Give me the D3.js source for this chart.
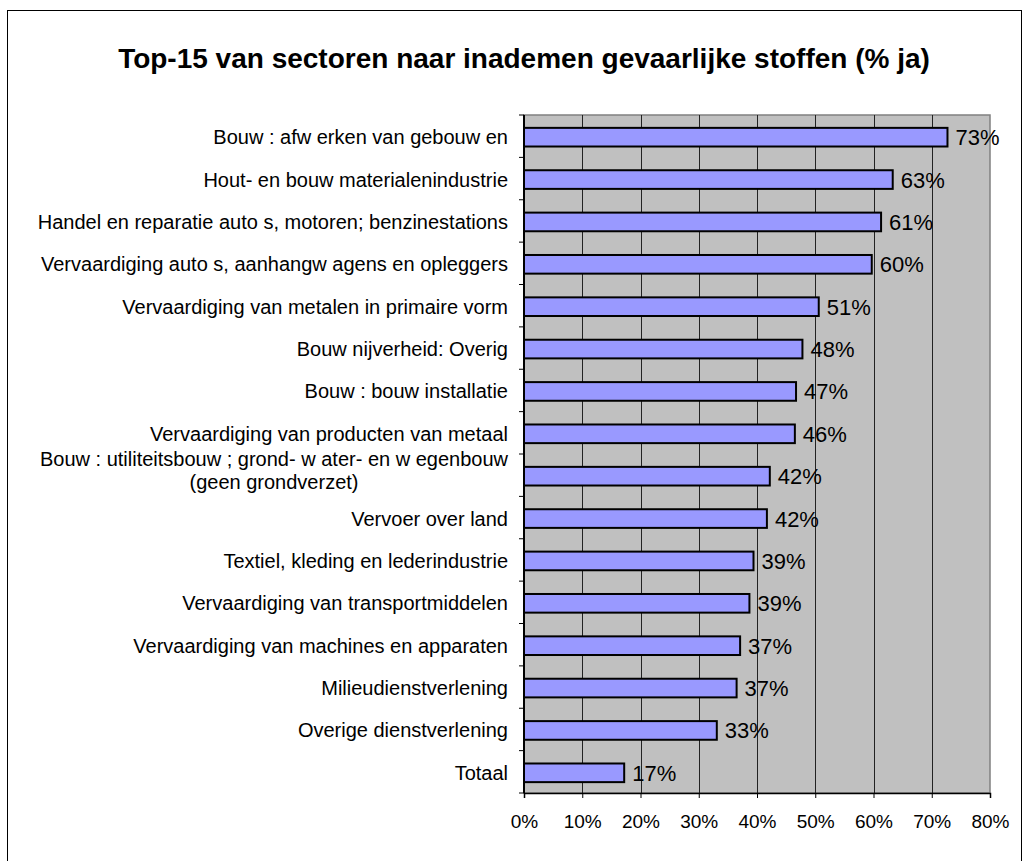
<!DOCTYPE html>
<html>
<head>
  <script src="https://d3js.org/d3.v7.min.js"></script>
</head>
<style>
body { margin: 0; background: #fff; }
text { font-family: Arial, "Liberation Sans", sans-serif; fill: #000; }
</style>
<body>
<script>
    var categories = [
      "Bouw : afw erken van gebouw en",
      "Hout- en bouw materialenindustrie",
      "Handel en reparatie auto s, motoren; benzinestations",
      "Vervaardiging auto s, aanhangw agens en opleggers",
      "Vervaardiging van metalen in primaire vorm",
      "Bouw nijverheid: Overig",
      "Bouw : bouw installatie",
      "Vervaardiging van producten van metaal",
      "Bouw : utiliteitsbouw ; grond- w ater- en w egenbouw\n(geen grondverzet)",
      "Vervoer over land",
      "Textiel, kleding en lederindustrie",
      "Vervaardiging van transportmiddelen",
      "Vervaardiging van machines en apparaten",
      "Milieudienstverlening",
      "Overige dienstverlening",
      "Totaal"
    ];
    // bar lengths
    var values = [0.727, 0.633, 0.613, 0.597, 0.506, 0.478, 0.467, 0.465,
                  0.422, 0.417, 0.394, 0.387, 0.371, 0.365, 0.331, 0.172];
    var labels = ["73%", "63%", "61%", "60%", "51%", "48%", "47%", "46%",
                  "42%", "42%", "39%", "39%", "37%", "37%", "33%", "17%"];
    var ticks = [0, 0.1, 0.2, 0.3, 0.4, 0.5, 0.6, 0.7, 0.8];
    var title = "Top-15 van sectoren naar inademen gevaarlijke stoffen (% ja)";

    var W = 1023, H = 861;
    var plotL = 524, plotR = 990, plotT = 115, plotB = 793;

    var svg = d3.select("body")
      .append("svg")
      .attr("width", W)
      .attr("height", H);

    // outer frame
    svg.append("rect")
      .attr("x", 7.5).attr("y", 10.5)
      .attr("width", 1014).attr("height", 860)
      .attr("fill", "#fff")
      .attr("stroke", "#000")
      .attr("stroke-width", 1);

    svg.append("text")
      .attr("x", 524)
      .attr("y", 68)
      .attr("text-anchor", "middle")
      .attr("font-size", 28)
      .attr("font-weight", "bold")
      .text(title);

    var x = d3.scaleLinear().domain([0, 0.8]).range([plotL, plotR]);
    var y = d3.scaleBand().domain(d3.range(categories.length))
      .range([plotT, plotB])
      .paddingInner(0.56)
      .paddingOuter(0.28);

    // plot area
    svg.append("rect")
      .attr("x", plotL).attr("y", plotT)
      .attr("width", plotR - plotL).attr("height", plotB - plotT)
      .attr("fill", "#c0c0c0")
      .attr("stroke", "#808080")
      .attr("stroke-width", 1.5);

    svg.selectAll(".grid")
      .data(ticks.slice(1, -1))
      .enter()
      .append("line")
      .attr("x1", function(d) { return Math.round(x(d)) + 0.5; })
      .attr("x2", function(d) { return Math.round(x(d)) + 0.5; })
      .attr("y1", plotT)
      .attr("y2", plotB)
      .attr("stroke", "#222")
      .attr("stroke-width", 1);

    // x axis
    var xAxis = svg.append("g")
      .attr("transform", "translate(0," + plotB + ")")
      .call(d3.axisBottom(x).tickValues(ticks).tickFormat(d3.format(".0%"))
        .tickSize(5).tickPadding(17));
    xAxis.select(".domain").attr("stroke", "#000").attr("stroke-width", 1.5);
    xAxis.selectAll("line").attr("stroke", "#000");
    xAxis.selectAll("text")
      .attr("font-size", 19)
      .attr("font-family", "Arial, 'Liberation Sans', sans-serif");

    // y axis line and ticks at band boundaries
    svg.append("line")
      .attr("x1", plotL).attr("x2", plotL)
      .attr("y1", plotT).attr("y2", plotB)
      .attr("stroke", "#000").attr("stroke-width", 2);
    var step = (plotB - plotT) / categories.length;
    svg.selectAll(".ytick")
      .data(d3.range(categories.length + 1))
      .enter()
      .append("line")
      .attr("x1", plotL - 5).attr("x2", plotL)
      .attr("y1", function(i) { return plotT + i * step; })
      .attr("y2", function(i) { return plotT + i * step; })
      .attr("stroke", "#000");

    // bars
    svg.selectAll(".bar")
      .data(values)
      .enter()
      .append("rect")
      .attr("x", x(0))
      .attr("y", function(d, i) { return y(i) + 1; })
      .attr("width", function(d) { return x(d) - x(0); })
      .attr("height", y.bandwidth())
      .attr("fill", "#9999ff")
      .attr("stroke", "#000")
      .attr("stroke-width", 2);

    svg.selectAll(".val")
      .data(values)
      .enter()
      .append("text")
      .attr("x", function(d) { return x(d) + 8; })
      .attr("y", function(d, i) { return y(i) + y.bandwidth() / 2 + 9; })
      .attr("font-size", 22)
      .text(function(d, i) { return labels[i]; });

    // category labels
    categories.forEach(function(c, i) {
      var lines = c.split("\n");
      var cy = y(i) + y.bandwidth() / 2 + 1;
      if (lines.length === 1) {
        svg.append("text")
          .attr("x", plotL - 16)
          .attr("y", cy + 7)
          .attr("text-anchor", "end")
          .attr("font-size", 20)
          .text(c);
      } else {
        var t1 = svg.append("text")
          .attr("font-size", 20)
          .attr("text-anchor", "middle")
          .text(lines[0]);
        var w = t1.node().getComputedTextLength();
        var cx = plotL - 16 - w / 2;
        t1.attr("x", cx).attr("y", cy - 10);
        svg.append("text")
          .attr("font-size", 20)
          .attr("text-anchor", "middle")
          .attr("x", cx).attr("y", cy + 13)
          .text(lines[1]);
      }
    });
</script>
</body>
</html>
